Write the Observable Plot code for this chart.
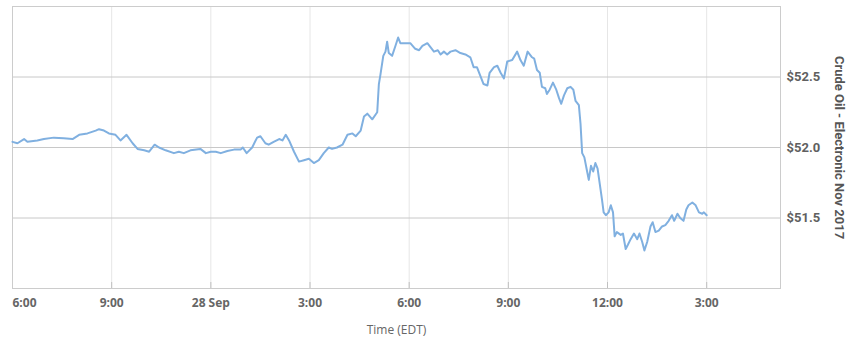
<!DOCTYPE html>
<html><head><meta charset="utf-8">
<script src="https://cdn.jsdelivr.net/npm/d3@7"></script>
<script src="https://cdn.jsdelivr.net/npm/@observablehq/plot@0.6"></script>
<style>html,body{margin:0;padding:0;background:#fff}#chart svg{display:block}</style>
</head><body><div id="chart"></div>
<script>
// Crude Oil - Electronic Nov 2017, 27 Sep 18:00 -> 28 Sep 15:00 (EDT)
const times = [
"09-27 18:00","09-27 18:09","09-27 18:21","09-27 18:27","09-27 18:45","09-27 18:57","09-27 19:15","09-27 19:33","09-27 19:49","09-27 20:01",
"09-27 20:16","09-27 20:31","09-27 20:37","09-27 20:46","09-27 20:55","09-27 21:07","09-27 21:16","09-27 21:27","09-27 21:38","09-27 21:47",
"09-27 21:59","09-27 22:08","09-27 22:18","09-27 22:26","09-27 22:38","09-27 22:53","09-27 23:02","09-27 23:11","09-27 23:23","09-27 23:41",
"09-27 23:51","09-28 00:00","09-28 00:09","09-28 00:18","09-28 00:30","09-28 00:42","09-28 00:54","09-28 00:58","09-28 01:05","09-28 01:15",
"09-28 01:24","09-28 01:30","09-28 01:39","09-28 01:45","09-28 01:54","09-28 02:04","09-28 02:10","09-28 02:16","09-28 02:22","09-28 02:31",
"09-28 02:40","09-28 02:49","09-28 02:58","09-28 03:07","09-28 03:16","09-28 03:25","09-28 03:34","09-28 03:40","09-28 03:49","09-28 03:59",
"09-28 04:08","09-28 04:17","09-28 04:23","09-28 04:32","09-28 04:38","09-28 04:44","09-28 04:53","09-28 05:02","09-28 05:05","09-28 05:08",
"09-28 05:13","09-28 05:17","09-28 05:20","09-28 05:23","09-28 05:29","09-28 05:35","09-28 05:40","09-28 05:44","09-28 05:53","09-28 06:02",
"09-28 06:11","09-28 06:18","09-28 06:24","09-28 06:33","09-28 06:39","09-28 06:45","09-28 06:52","09-28 06:57","09-28 07:03","09-28 07:09",
"09-28 07:15","09-28 07:24","09-28 07:33","09-28 07:42","09-28 07:51","09-28 07:57","09-28 08:03","09-28 08:09","09-28 08:15","09-28 08:22",
"09-28 08:26","09-28 08:34","09-28 08:40","09-28 08:46","09-28 08:52","09-28 08:58","09-28 09:07","09-28 09:16","09-28 09:22","09-28 09:28",
"09-28 09:35","09-28 09:43","09-28 09:47","09-28 09:52","09-28 09:57","09-28 10:01","09-28 10:07","09-28 10:10","09-28 10:15","09-28 10:21",
"09-28 10:27","09-28 10:32","09-28 10:36","09-28 10:41","09-28 10:47","09-28 10:53","09-28 10:58","09-28 11:02","09-28 11:08","09-28 11:11",
"09-28 11:14","09-28 11:18","09-28 11:23","09-28 11:26","09-28 11:30","09-28 11:34","09-28 11:38","09-28 11:42","09-28 11:46","09-28 11:50",
"09-28 11:53","09-28 11:57","09-28 12:02","09-28 12:06","09-28 12:10","09-28 12:13","09-28 12:17","09-28 12:24","09-28 12:28","09-28 12:33",
"09-28 12:37","09-28 12:42","09-28 12:48","09-28 12:54","09-28 12:58","09-28 13:03","09-28 13:07","09-28 13:12","09-28 13:18","09-28 13:22",
"09-28 13:27","09-28 13:33","09-28 13:39","09-28 13:45","09-28 13:51","09-28 13:57","09-28 14:01","09-28 14:07","09-28 14:12","09-28 14:18",
"09-28 14:23","09-28 14:27","09-28 14:34","09-28 14:40","09-28 14:46","09-28 14:52","09-28 14:55","09-28 15:00"
];
const prices = [
52.04,52.03,52.06,52.04,52.05,52.06,52.07,52.065,52.06,52.09,
52.10,52.12,52.13,52.12,52.10,52.09,52.05,52.09,52.03,51.99,
51.98,51.97,52.02,52.00,51.98,51.96,51.97,51.96,51.98,51.99,
51.96,51.97,51.97,51.96,51.975,51.985,51.985,52.00,51.96,52.00,
52.07,52.08,52.03,52.02,52.04,52.06,52.05,52.09,52.05,51.97,
51.90,51.91,51.92,51.89,51.91,51.96,52.00,51.99,52.00,52.02,
52.09,52.10,52.08,52.12,52.22,52.24,52.20,52.25,52.45,52.52,
52.65,52.68,52.75,52.67,52.65,52.72,52.78,52.74,52.74,52.74,
52.70,52.69,52.72,52.74,52.71,52.68,52.69,52.66,52.68,52.66,
52.68,52.69,52.67,52.66,52.64,52.57,52.57,52.51,52.45,52.44,
52.53,52.57,52.58,52.53,52.49,52.61,52.62,52.68,52.62,52.58,
52.68,52.64,52.63,52.55,52.53,52.43,52.42,52.38,52.41,52.46,
52.41,52.35,52.31,52.37,52.42,52.43,52.41,52.33,52.30,52.17,
51.96,51.93,51.83,51.77,51.87,51.83,51.89,51.85,51.74,51.63,
51.54,51.52,51.54,51.59,51.54,51.37,51.40,51.38,51.39,51.28,
51.31,51.35,51.39,51.35,51.39,51.33,51.27,51.33,51.44,51.47,
51.40,51.41,51.44,51.45,51.48,51.52,51.48,51.53,51.50,51.48,
51.56,51.59,51.61,51.59,51.54,51.53,51.54,51.52
];
const xTicks = ["09-27 18:00","09-27 21:00","09-28 00:00","09-28 03:00","09-28 06:00","09-28 09:00","09-28 12:00","09-28 15:00"];
const xTickLabels = ["6:00","9:00","28 Sep","3:00","6:00","9:00","12:00","3:00"];
const yTicks = [51.5, 52.0, 52.5];
const yTickLabels = ["$51.5","$52.0","$52.5"];
const xTitle = "Time (EDT)";
const yTitle = "Crude Oil - Electronic Nov 2017";
const xDomain = ["09-27 18:00","09-28 17:14"];
const yDomain = [51, 53];

const parse = s => d3.utcParse("%Y-%m-%d %H:%M")("2017-" + s);
const data = times.map((t, i) => ({date: parse(t), price: prices[i]}));
const tickDates = xTicks.map(parse);

const chart = Plot.plot({
  width: 854,
  height: 358,
  marginTop: 6,
  marginBottom: 70,
  marginLeft: 12,
  marginRight: 74,
  x: {type: "utc", domain: xDomain.map(parse), axis: null},
  y: {domain: yDomain, axis: null},
  style: {fontFamily: "'Open Sans', sans-serif", background: "#fff"},
  marks: [
    Plot.ruleX(tickDates, {x: d => d, stroke: "#e6e6e6", strokeWidth: 1}),
    Plot.ruleY(yTicks, {y: d => d, stroke: "#c8c8c8", strokeWidth: 1}),
    Plot.frame({stroke: "#cccccc"}),
    Plot.ruleX(tickDates.slice(1), {x: d => d, stroke: "#c0c0c0", insetTop: 276}),
    Plot.line(data, {x: "date", y: "price", stroke: "#80b0e0", strokeWidth: 2, strokeLinejoin: "round"}),
    Plot.text(tickDates.slice(1), {x: d => d, frameAnchor: "bottom", dy: 15, lineAnchor: "middle", textAnchor: "middle",
      text: (d, i) => xTickLabels[i + 1], fontWeight: "bold", fontSize: 12, fill: "#666"}),
    Plot.text(tickDates.slice(0, 1), {x: d => d, frameAnchor: "bottom", dy: 15, lineAnchor: "middle", textAnchor: "start",
      text: (d, i) => xTickLabels[i], fontWeight: "bold", fontSize: 12, fill: "#666"}),
    Plot.text(yTicks, {y: d => d, frameAnchor: "right", dx: 6, textAnchor: "start", lineAnchor: "middle",
      text: (d, i) => yTickLabels[i], fontFamily: "Roboto, sans-serif", fontWeight: "bold", fontSize: 13, fill: "#606060"}),
    Plot.text([yTitle], {frameAnchor: "right", dx: 59, rotate: 90, textAnchor: "middle", lineAnchor: "middle",
      text: d => d, fontFamily: "Roboto, sans-serif", fontWeight: "bold", fontSize: 13, fill: "#555"}),
    Plot.text([xTitle], {frameAnchor: "bottom", dy: 42, textAnchor: "middle", lineAnchor: "middle",
      text: d => d, fontSize: 12, fill: "#666"})
  ]
});
document.getElementById("chart").appendChild(chart);
</script>
</body></html>
